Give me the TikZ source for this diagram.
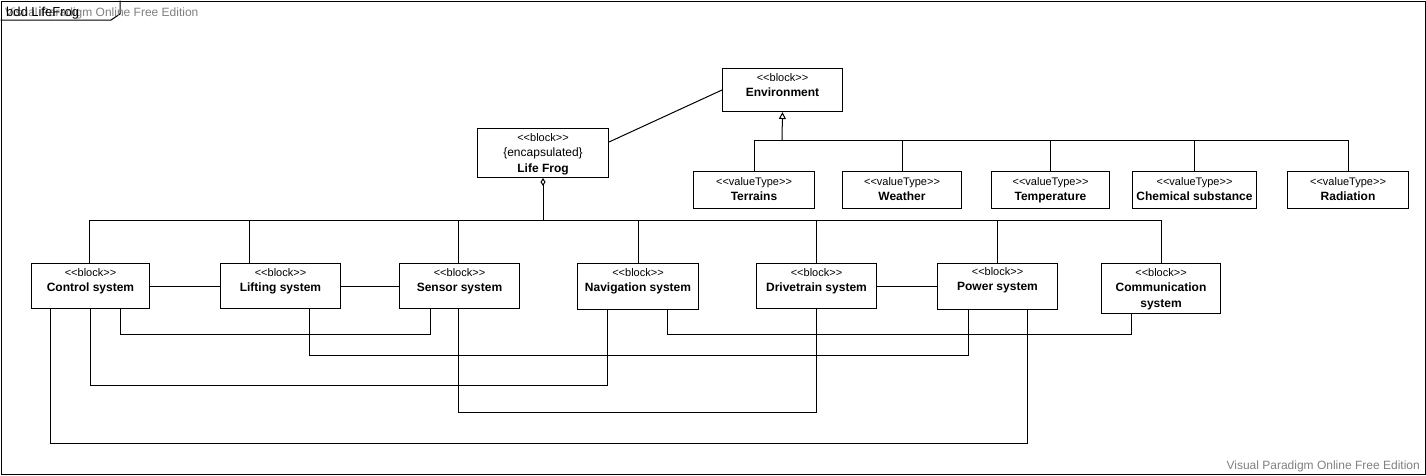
\documentclass[tikz,border=0pt]{standalone}
\usepackage{fontspec}
\setmainfont{Liberation Sans}
\usetikzlibrary{arrows.meta}
\definecolor{wmgray}{HTML}{808080}
\newcommand{\sopen}{<\kern0pt<}
\newcommand{\sclose}{>\kern0pt>}
\newcommand{\stt}[1]{{\fontsize{11}{15.5}\selectfont\sopen #1\sclose}}
\newcommand{\bkt}[2]{\begin{tabular}[t]{@{}c@{}}\stt{#1}\\ #2\end{tabular}}
\tikzset{
  box/.style={draw, line width=1pt, anchor=north west, inner sep=0pt},
  txt/.style={anchor=base, inner sep=0pt, font=\fontsize{12}{15.5}\selectfont},
  conn/.style={line width=1pt},
}
\begin{document}
\begin{tikzpicture}[x=1pt,y=-1pt]
\useasboundingbox (0,0) rectangle (1426,475);
% frame
\node[draw, line width=1pt, anchor=north west, minimum width=1424, minimum height=473, inner sep=0pt] (frame) at (0.5,0.5) {};
\draw[conn] (frame.north west |- 0,20) -- (111,20) -- (120,14) -- (120,0.5);
\node[anchor=base west, inner sep=0pt, text=wmgray, font=\fontsize{12}{14}\selectfont] (wm1) at (5,16) {Visual Paradigm Online Free Edition};
\node[anchor=base west, inner sep=0pt, font=\fontsize{13}{15}\selectfont] (title) at (6,16) {bdd LifeFrog};
\node[anchor=base east, inner sep=0pt, text=wmgray, font=\fontsize{12}{14}\selectfont] (wm2) at (1420,469) {Visual Paradigm Online Free Edition};

% top blocks
\node[box, minimum width=120, minimum height=43] (env) at (722,68) {};
\node[txt] (env-t) at ([yshift=-13pt]env.north) {\bkt{block}{\bfseries Environment}};
\node[box, minimum width=131, minimum height=49] (lf) at (477,128) {};
\node[txt] (lf-t) at ([yshift=-13pt]lf.north) {\bkt{block}{\{encapsulated\}\\ \bfseries Life Frog}};

% value types
\node[box, minimum width=121, minimum height=36.5] (terr) at (693,171) {};
\node[box, minimum width=119, minimum height=36.5] (weat) at (842,171) {};
\node[box, minimum width=118, minimum height=36.5] (temp) at (991,171) {};
\node[box, minimum width=124, minimum height=36.5] (chem) at (1132,171) {};
\node[box, minimum width=121, minimum height=36.5] (rad) at (1287,171) {};
\node[txt] (terr-t) at ([yshift=-14pt]terr.north) {\bkt{valueType}{\bfseries Terrains}};
\node[txt] (weat-t) at ([yshift=-14pt]weat.north) {\bkt{valueType}{\bfseries Weather}};
\node[txt] (temp-t) at ([yshift=-14pt]temp.north) {\bkt{valueType}{\bfseries Temperature}};
\node[txt] (chem-t) at ([yshift=-14pt]chem.north) {\bkt{valueType}{\bfseries Chemical substance}};
\node[txt] (rad-t) at ([yshift=-14pt]rad.north) {\bkt{valueType}{\bfseries Radiation}};

% subsystem blocks
\node[box, minimum width=118, minimum height=45] (ctrl) at (31,263) {};
\node[box, minimum width=120, minimum height=45] (lift) at (220,263) {};
\node[box, minimum width=120, minimum height=45] (sens) at (399,263) {};
\node[box, minimum width=121, minimum height=46] (nav) at (577,263) {};
\node[box, minimum width=120, minimum height=45] (drive) at (756,263) {};
\node[box, minimum width=120, minimum height=46.5] (pow) at (937,262.5) {};
\node[box, minimum width=119, minimum height=50] (comm) at (1101,263) {};
\node[txt] (ctrl-t) at ([yshift=-13pt]ctrl.north) {\bkt{block}{\bfseries Control system}};
\node[txt] (lift-t) at ([yshift=-13pt]lift.north) {\bkt{block}{\bfseries Lifting system}};
\node[txt] (sens-t) at ([yshift=-13pt]sens.north) {\bkt{block}{\bfseries Sensor system}};
\node[txt] (nav-t) at ([yshift=-13pt]nav.north) {\bkt{block}{\bfseries Navigation system}};
\node[txt] (drive-t) at ([yshift=-13pt]drive.north) {\bkt{block}{\bfseries Drivetrain system}};
\node[txt] (pow-t) at ([yshift=-12.5pt]pow.north) {\bkt{block}{\bfseries Power system}};
\node[txt] (comm-t) at ([yshift=-13pt]comm.north) {\bkt{block}{\bfseries Communication\\ \bfseries system}};

% association Life Frog -- Environment
\draw[conn] (lf.east |- 0,142) -- (env.west);

% generalization
\coordinate (gbus) at (782,140);
\draw[conn, -{Triangle[open,length=7pt,width=7pt]}] (gbus) -- (env.south);
\draw[conn] (terr.north) -- (terr.north |- gbus) -- (rad.north |- gbus) -- (rad.north);
\draw[conn] (weat.north) -- (weat.north |- gbus);
\draw[conn] (temp.north) -- (temp.north |- gbus);
\draw[conn] (chem.north) -- (chem.north |- gbus);

% composition
\coordinate (cbus) at (543,220);
\draw[conn, {Diamond[open,length=8pt,width=5pt]}-] (lf.south -| cbus) -- (cbus);
\draw[conn] (ctrl.north -| 89,0) -- (89,0 |- cbus) -- (comm.north |- cbus) -- (comm.north);
\draw[conn] (lift.north -| 249,0) -- (249,0 |- cbus);
\draw[conn] (sens.north -| 458,0) -- (458,0 |- cbus);
\draw[conn] (nav.north) -- (nav.north |- cbus);
\draw[conn] (drive.north) -- (drive.north |- cbus);
\draw[conn] (pow.north) -- (pow.north |- cbus);

% direct links
\draw[conn] (ctrl.east) -- (lift.west);
\draw[conn] (lift.east) -- (sens.west);
\draw[conn] (drive.east) -- (pow.west |- drive.east);

% routed links
\draw[conn] (ctrl.south -| 120,0) -- (120,334) -- (430,334) -- (sens.south -| 430,0);
\draw[conn] (ctrl.south) -- (ctrl.south |- 0,385) -- (607,385) -- (nav.south -| 607,0);
\draw[conn] (ctrl.south -| 50,0) -- (50,443) -- (1027,443) -- (pow.south -| 1027,0);
\draw[conn] (lift.south -| 309,0) -- (309,355) -- (968,355) -- (pow.south -| 968,0);
\draw[conn] (sens.south -| 458,0) -- (458,412) -- (drive.south |- 0,412) -- (drive.south);
\draw[conn] (nav.south -| 667,0) -- (667,334) -- (1131,334) -- (comm.south -| 1131,0);
\end{tikzpicture}
\end{document}
